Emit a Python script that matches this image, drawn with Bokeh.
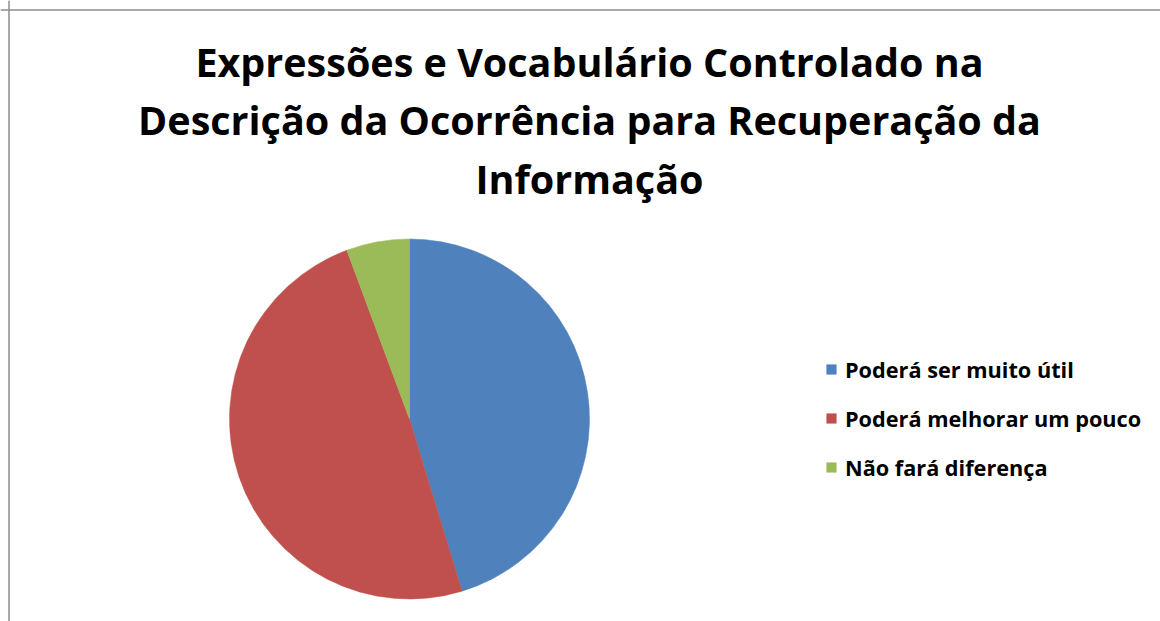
import numpy as np
from bokeh.plotting import figure
from bokeh.models import Range1d, Span, Legend, LegendItem, ColumnDataSource
from bokeh.core.properties import value
from bokeh.embed import file_html
from bokeh.resources import INLINE

# ---- data ----
categories = ["Poderá ser muito útil", "Poderá melhorar um pouco", "Não fará diferença"]
values = [24, 26, 3]
colors = ["#4F81BD", "#C0504D", "#9BBB59"]
title_lines = ["Expressões e Vocabulário Controlado na",
               "Descrição da Ocorrência para Recuperação da",
               "Informação"]

W, H = 1160, 621
p = figure(width=W, height=H, output_backend="svg", toolbar_location=None,
           x_range=Range1d(0, W), y_range=Range1d(0, H), min_border=0,
           match_aspect=False)
p.axis.visible = False
p.grid.visible = False
p.outline_line_color = None
p.background_fill_color = "white"
p.border_fill_color = "white"

# frame lines (only top and left visible in the reference)
p.add_layout(Span(location=8.5, dimension="height", line_color="#8c8c8c", line_width=1.5))
p.add_layout(Span(location=H - 9.5, dimension="width", line_color="#8c8c8c", line_width=1.5))

# ---- pie ----
vals = np.array(values, dtype=float)
frac = vals / vals.sum()
cum = np.concatenate([[0], np.cumsum(frac)])
start = np.pi / 2 - 2 * np.pi * cum[:-1]
end = np.pi / 2 - 2 * np.pi * cum[1:]

cx, cy, r = 409, 202.5, 180
items = []
for i, cat in enumerate(categories):
    src = ColumnDataSource(dict(x=[cx], y=[cy], s=[start[i]], e=[end[i]]))
    rend = p.wedge(x="x", y="y", radius=r, start_angle="s", end_angle="e",
                   direction="clock", fill_color=colors[i], line_color=colors[i],
                   line_width=0.5, source=src)
    items.append(LegendItem(label=cat, renderers=[rend]))

legend = Legend(items=items, location=(825, 139), orientation="vertical",
                glyph_width=12, glyph_height=12, label_standoff=8,
                label_text_font="Open Sans", label_text_font_style="bold",
                label_text_font_size="21.7px", label_text_color="black",
                label_height=30, spacing=19, padding=0, margin=0,
                border_line_color=None, background_fill_alpha=0)
p.add_layout(legend, "center")

# ---- title ----
tsrc = ColumnDataSource(dict(x=[589, 589, 589], y=[560, 501.5, 443], t=title_lines))
p.text(x="x", y="y", text="t", source=tsrc, text_align="center",
       text_baseline="alphabetic", text_font=value("Open Sans"),
       text_font_style="bold", text_font_size="39.5px", text_color="black")

open("out.html", "w").write(file_html(p, INLINE))
